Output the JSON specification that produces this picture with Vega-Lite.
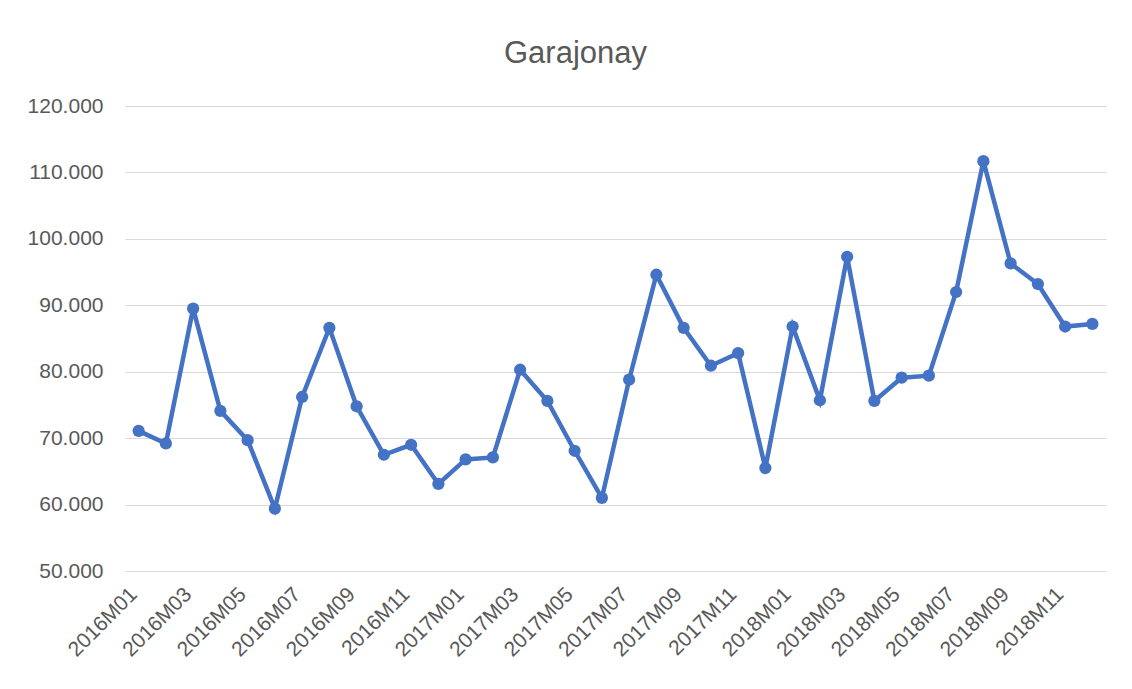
{
  "$schema": "https://vega.github.io/schema/vega-lite/v6.json",
  "autosize": {"type": "none"},
  "padding": {"left": 125, "top": 106, "right": 26, "bottom": 118},
  "width": 981,
  "height": 465,
  "background": "white",
  "title": {
    "text": "Garajonay",
    "fontSize": 31,
    "font": "Liberation Sans",
    "fontWeight": "normal",
    "color": "#595959",
    "anchor": "middle",
    "dx": -40,
    "offset": 25
  },
  "data": {
    "values": [
      {"mes": "2016M01", "valor": 71100},
      {"mes": "2016M02", "valor": 69200},
      {"mes": "2016M03", "valor": 89500},
      {"mes": "2016M04", "valor": 74100},
      {"mes": "2016M05", "valor": 69700},
      {"mes": "2016M06", "valor": 59400},
      {"mes": "2016M07", "valor": 76200},
      {"mes": "2016M08", "valor": 86600},
      {"mes": "2016M09", "valor": 74800},
      {"mes": "2016M10", "valor": 67500},
      {"mes": "2016M11", "valor": 69000},
      {"mes": "2016M12", "valor": 63100},
      {"mes": "2017M01", "valor": 66800},
      {"mes": "2017M02", "valor": 67100},
      {"mes": "2017M03", "valor": 80300},
      {"mes": "2017M04", "valor": 75600},
      {"mes": "2017M05", "valor": 68100},
      {"mes": "2017M06", "valor": 61000},
      {"mes": "2017M07", "valor": 78800},
      {"mes": "2017M08", "valor": 94600},
      {"mes": "2017M09", "valor": 86600},
      {"mes": "2017M10", "valor": 80900},
      {"mes": "2017M11", "valor": 82800},
      {"mes": "2017M12", "valor": 65500},
      {"mes": "2018M01", "valor": 86800},
      {"mes": "2018M02", "valor": 75700},
      {"mes": "2018M03", "valor": 97300},
      {"mes": "2018M04", "valor": 75600},
      {"mes": "2018M05", "valor": 79100},
      {"mes": "2018M06", "valor": 79400},
      {"mes": "2018M07", "valor": 92000},
      {"mes": "2018M08", "valor": 111700},
      {"mes": "2018M09", "valor": 96300},
      {"mes": "2018M10", "valor": 93200},
      {"mes": "2018M11", "valor": 86800},
      {"mes": "2018M12", "valor": 87200}
    ]
  },
  "mark": {
    "type": "line",
    "color": "#4472C4",
    "strokeWidth": 4.5,
    "point": {"filled": true, "size": 150, "color": "#4472C4"}
  },
  "encoding": {
    "x": {
      "field": "mes",
      "type": "ordinal",
      "sort": null,
      "scale": {"type": "point", "padding": 0.5},
      "axis": {
        "title": null,
        "values": ["2016M01","2016M03","2016M05","2016M07","2016M09","2016M11","2017M01","2017M03","2017M05","2017M07","2017M09","2017M11","2018M01","2018M03","2018M05","2018M07","2018M09","2018M11"],
        "labelAngle": -45,
        "labelAlign": "right",
        "labelBaseline": "middle",
        "labelPadding": 20,
        "labelOffset": -5,
        "labelFont": "Liberation Sans",
        "labelFontSize": 21,
        "labelColor": "#595959",
        "ticks": false,
        "domain": true,
        "domainColor": "#D9D9D9",
        "grid": false,
        "labelOverlap": false
      }
    },
    "y": {
      "field": "valor",
      "type": "quantitative",
      "scale": {"domain": [50000, 120000], "nice": false, "zero": false},
      "axis": {
        "title": null,
        "values": [50000, 60000, 70000, 80000, 90000, 100000, 110000, 120000],
        "labelExpr": "replace(format(datum.value, ','), ',', '.')",
        "labelFont": "Liberation Sans",
        "labelFontSize": 21,
        "labelColor": "#595959",
        "labelPadding": 22,
        "ticks": false,
        "domain": false,
        "grid": true,
        "gridColor": "#D9D9D9",
        "gridWidth": 1
      }
    }
  },
  "config": {
    "view": {"stroke": null}
  }
}
